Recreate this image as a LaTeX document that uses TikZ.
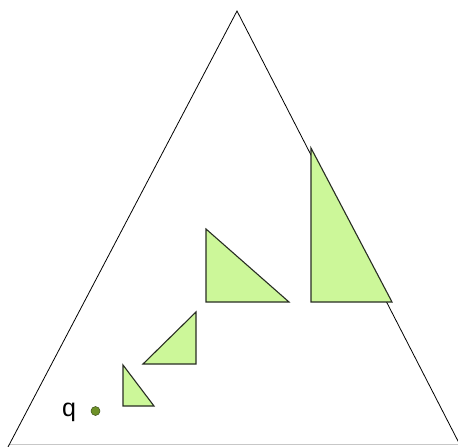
\documentclass[tikz,border=0pt]{standalone}
\usepackage{fontspec}
\setmainfont{Liberation Sans}
\definecolor{tri}{RGB}{204,247,153}
\definecolor{triedge}{RGB}{40,45,35}
\definecolor{dotfill}{RGB}{110,145,40}
\definecolor{dotedge}{RGB}{60,80,25}
\tikzset{
  bigside/.style={draw=black, line width=0.8pt},
  baseline/.style={draw=black!22, line width=0.8pt},
  rtri/.style={fill=tri, draw=triedge, line width=1.1pt, line join=miter},
  qdot/.style={circle, fill=dotfill, draw=dotedge, line width=0.5pt, minimum size=9pt, inner sep=0pt},
  qlabel/.style={font=\fontsize{25}{28}\selectfont, inner sep=0pt, text=black}
}
\begin{document}
\begin{tikzpicture}[x=1pt,y=-1pt]
\useasboundingbox (0,0) rectangle (458,447);
\fill[white] (0,0) rectangle (458,447);
% big triangle
\coordinate (apex) at (237,11);
\coordinate (bl) at (8,447);
\coordinate (br) at (459,443);
\coordinate (gl) at (10,444);
\coordinate (gr) at (458,444);
\draw[baseline] (gl) -- (gr);
\draw[bigside] (bl) -- (apex) -- (br);
% right triangles
\draw[rtri] (311,148) -- (311,302) -- (392,302) -- cycle;
\draw[rtri] (206,229) -- (206,302) -- (289,302) -- cycle;
\draw[rtri] (196,312) -- (196,364) -- (143,364) -- cycle;
\draw[rtri] (123,365) -- (123,406) -- (154,406) -- cycle;
% point q
\node[qdot] (q) at (95.5,411) {};
\node[qlabel, anchor=base] (qt) at (69,416) {q};
\end{tikzpicture}
\end{document}
